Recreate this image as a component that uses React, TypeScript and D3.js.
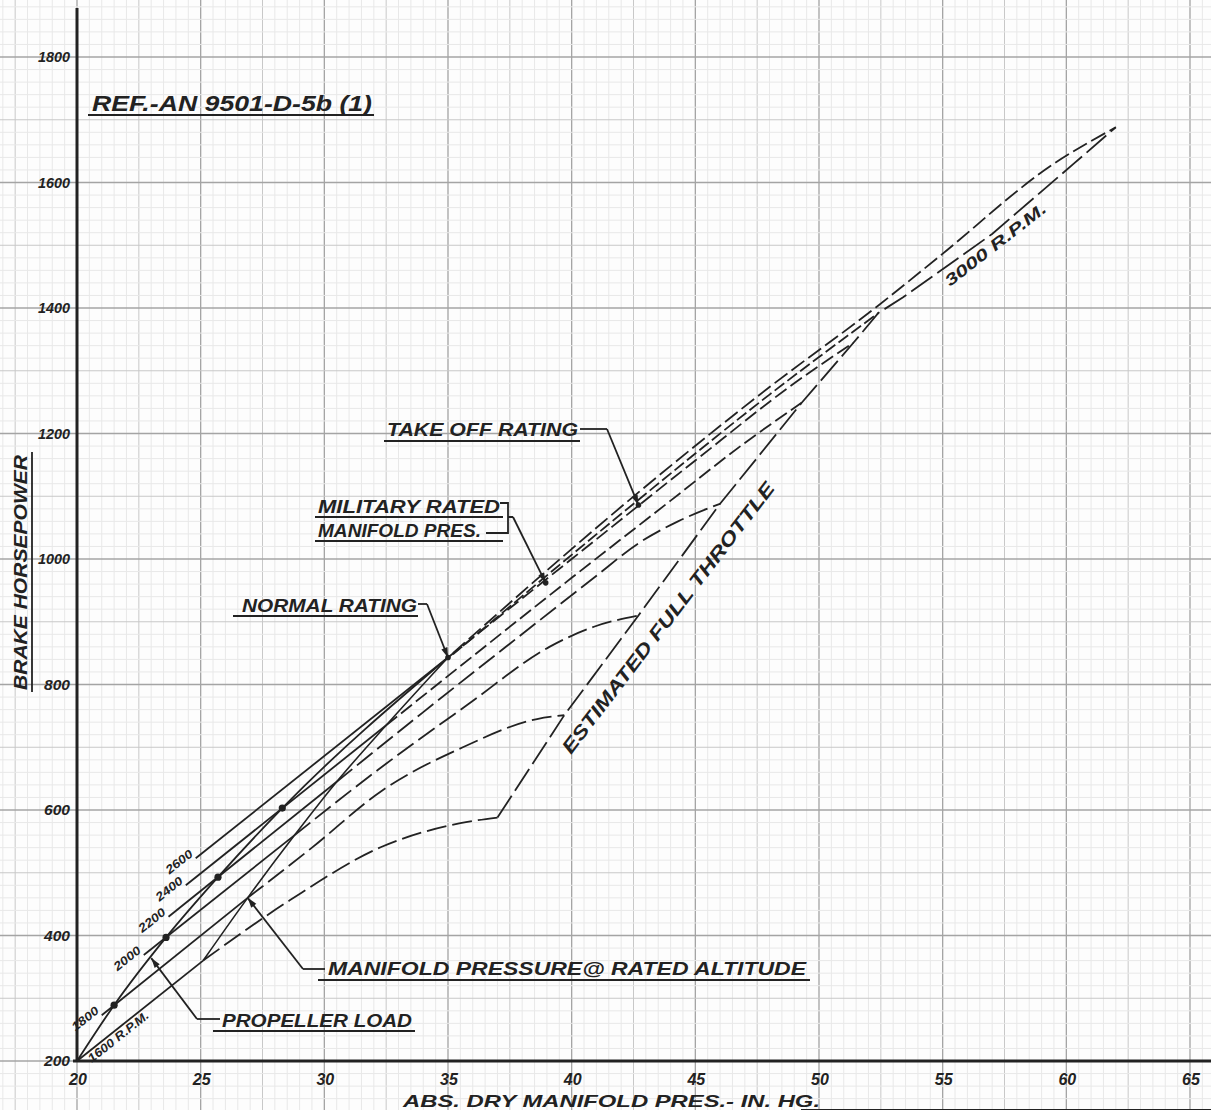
import React from 'react';
import * as d3 from 'd3';

const W = 1211;
const H = 1110;

// ---------- data ----------
const xTickValues = [20, 25, 30, 35, 40, 45, 50, 55, 60, 65];
const yTickValues = [200, 400, 600, 800, 1000, 1200, 1400, 1600, 1800];

const propellerX = [20, 21.5, 23.6, 25.7, 28.3, 35];
const propellerY = [200, 289, 397, 493, 603, 843];
const propellerDotX = [21.5, 23.6, 25.7, 28.3];
const propellerDotY = [289, 397, 493, 603];

const rpmNames = ['1600', '1800', '2000', '2200', '2400', '2600'];
const rpmSolidX = [[20, 25.1], [21.0, 26.9], [22.7, 28.8], [23.7, 30.5], [24.4, 32.5], [24.8, 35]];
const rpmSolidY = [[200, 360], [273, 460], [369, 560], [430, 645], [480, 735], [523, 843]];
const rpmDashX = [
  [25.1, 28.6, 32.3, 35.5, 37.0],
  [26.9, 29.5, 32.3, 35.6, 38.6, 39.7],
  [28.8, 32.2, 35.8, 39.1, 40.9, 42.7],
  [30.5, 34, 37.5, 40.9, 42.7, 44.3, 46.0],
  [32.5, 36, 40, 44, 47, 49.3],
  [35, 40, 45, 49, 51.4],
];
const rpmDashY = [
  [360, 456, 541, 579, 588],
  [460, 540, 630, 700, 745, 751],
  [560, 665, 768, 860, 892, 910],
  [645, 756, 865, 970, 1025, 1060, 1088],
  [735, 845, 970, 1093, 1185, 1249],
  [843, 1000, 1157, 1280, 1345],
];

const highRpmNames = ['2800', '3000'];
const highDashX = [
  [35.2, 43, 48, 52.4],
  [35.2, 43, 48, 52.4, 54.8, 59.5, 62],
];
const highDashY = [
  [848, 1104, 1262, 1392],
  [850, 1116, 1274, 1404, 1480, 1630, 1688],
];

const fullThrottleX = [37.0, 39.7, 42.7, 46.0, 49.3, 51.4, 52.4, 53.4, 57, 60.3, 62];
const fullThrottleY = [588, 751, 910, 1088, 1249, 1345, 1392, 1417, 1518, 1630, 1688];

const ratedAltX = [25.1, 26.9, 28.8, 30.5, 32.5, 35];
const ratedAltY = [360, 460, 560, 645, 735, 843];

const ratingNames = ['NORMAL RATING', 'MILITARY RATED', 'TAKE OFF RATING'];
const ratingX = [35, 38.95, 42.7];
const ratingY = [843, 962, 1086];

const propArrowX = 23.0;
const propArrowY = 364;

// ---------- scales ----------
const xs = d3.scaleLinear().domain([20, 65]).range([77, 1190]);
const ys = d3.scaleLinear().domain([200, 1800]).range([1061, 57]);

const INK = '#222';
const FONT = "'Liberation Sans', Arial, sans-serif";

const zip = (a: number[], b: number[]) => a.map((v, i) => [v, b[i]] as [number, number]);
const lin = d3.line<[number, number]>().x(d => xs(d[0])).y(d => ys(d[1]));
const smooth = d3.line<[number, number]>().x(d => xs(d[0])).y(d => ys(d[1])).curve(d3.curveMonotoneX);

function Arrow({ fx, fy, tx, ty }: { fx: number; fy: number; tx: number; ty: number }) {
  const a = Math.atan2(ty - fy, tx - fx);
  const L = 10, Wd = 3.2;
  const bx = tx - L * Math.cos(a), by = ty - L * Math.sin(a);
  const p1 = [bx + Wd * Math.sin(a), by - Wd * Math.cos(a)];
  const p2 = [bx - Wd * Math.sin(a), by + Wd * Math.cos(a)];
  return (
    <g>
      <line x1={fx} y1={fy} x2={tx} y2={ty} stroke={INK} strokeWidth={1.8} />
      <polygon points={`${tx},${ty} ${p1[0]},${p1[1]} ${p2[0]},${p2[1]}`} fill={INK} />
    </g>
  );
}

function Label({ x, y, text, len, size, rotate = 0, anchor = 'start', underline }: any) {
  return (
    <g transform={`translate(${x},${y}) rotate(${rotate})`}>
      <text
        x={0}
        y={0}
        textAnchor={anchor}
        fontFamily={FONT}
        fontStyle="italic"
        fontWeight="bold"
        fontSize={size}
        fill={INK}
        textLength={len}
        lengthAdjust="spacingAndGlyphs"
      >
        {text}
      </text>
      {underline ? (
        <line x1={underline[0]} x2={underline[1]} y1={underline[2]} y2={underline[2]} stroke={INK} strokeWidth={1.8} />
      ) : null}
    </g>
  );
}

export default function App() {
  // grid
  const fineX = d3.range(16, 66.01, 0.5);
  const fineY = d3.range(120, 1900, 20);
  const gridLines: JSX.Element[] = [];
  fineX.forEach((v, i) => {
    const r = Math.round(v * 2);
    const major = r % 10 === 0;
    const mid = !major && r % 5 === 0;
    gridLines.push(
      <line key={'gx' + i} x1={xs(v)} x2={xs(v)} y1={0} y2={H}
        stroke={major ? '#a4a4a4' : mid ? '#c8c8c8' : '#e8e8e8'} strokeWidth={major ? 1.3 : 1} />
    );
  });
  fineY.forEach((v, i) => {
    const major = v % 200 === 0;
    const mid = !major && v % 100 === 0;
    gridLines.push(
      <line key={'gy' + i} y1={ys(v)} y2={ys(v)} x1={0} x2={W}
        stroke={major ? '#a4a4a4' : mid ? '#c8c8c8' : '#e8e8e8'} strokeWidth={major ? 1.3 : 1} />
    );
  });

  const slopeAngle = (i: number) => {
    const [x0, x1] = rpmSolidX[i];
    const [y0, y1] = rpmSolidY[i];
    return (Math.atan2(ys(y1) - ys(y0), xs(x1) - xs(x0)) * 180) / Math.PI;
  };

  return (
    <svg width={W} height={H} style={{ position: 'absolute', left: 0, top: 0, background: '#fff' }}>
      <rect x={0} y={0} width={W} height={H} fill="#fdfdfd" />
      {gridLines}

      {/* axes */}
      <line x1={xs(20)} x2={xs(20)} y1={8} y2={ys(200)} stroke={INK} strokeWidth={3} />
      <line x1={xs(20) - 4} x2={W} y1={ys(200)} y2={ys(200)} stroke={INK} strokeWidth={3} />

      {/* tick labels */}
      {xTickValues.map(t => (
        <text key={'xt' + t} x={xs(t) + 1} y={1085} textAnchor="middle" fontFamily={FONT} fontStyle="italic"
          fontWeight="bold" fontSize={16} fill={INK}>{t}</text>
      ))}
      {yTickValues.map(t => (
        <text key={'yt' + t} x={70} y={ys(t) + 5} textAnchor="end" fontFamily={FONT} fontStyle="italic"
          fontWeight="bold" fontSize={14} fill={INK} textLength={t >= 1000 ? 32 : 26}
          lengthAdjust="spacingAndGlyphs">{t}</text>
      ))}

      {/* axis titles */}
      <Label x={403} y={1107} text="ABS. DRY MANIFOLD PRES.- IN. HG." len={417} size={17} underline={[398, 822, 3]} />
      <Label x={27} y={690} rotate={-90} text="BRAKE HORSEPOWER" len={235} size={19} underline={[-2, 238, 5]} />
      <Label x={92} y={111} text="REF.-AN 9501-D-5b (1)" len={280} size={22} underline={[-4, 282, 4]} />

      {/* propeller load */}
      <path d={smooth(zip(propellerX, propellerY)) || ''} fill="none" stroke={INK} strokeWidth={1.8} />
      {propellerDotX.map((v, i) => (
        <circle key={'pd' + i} cx={xs(v)} cy={ys(propellerDotY[i])} r={3.6} fill={INK} />
      ))}

      {/* rated altitude */}
      <path d={smooth(zip(ratedAltX, ratedAltY)) || ''} fill="none" stroke={INK} strokeWidth={1.6} />

      {/* rpm lines */}
      {rpmNames.map((n, i) => (
        <g key={'rpm' + n}>
          <path d={lin(zip(rpmSolidX[i], rpmSolidY[i])) || ''} fill="none" stroke={INK} strokeWidth={1.8} />
          <path d={smooth(zip(rpmDashX[i], rpmDashY[i])) || ''} fill="none" stroke={INK} strokeWidth={1.8}
            strokeDasharray={i >= 4 ? '14 5' : '20 6'} />
        </g>
      ))}
      {highRpmNames.map((n, i) => (
        <path key={'hr' + n} d={smooth(zip(highDashX[i], highDashY[i])) || ''} fill="none" stroke={INK}
          strokeWidth={1.8} strokeDasharray={i === 0 ? '12 4' : '16 5'} />
      ))}

      {/* full throttle */}
      <path d={lin(zip(fullThrottleX, fullThrottleY)) || ''} fill="none" stroke={INK} strokeWidth={1.8}
        strokeDasharray="26 6" />

      {/* rating points */}
      {ratingX.map((v, i) => (
        <circle key={'rt' + i} cx={xs(v)} cy={ys(ratingY[i])} r={2.8} fill={INK} />
      ))}

      {/* rpm labels */}
      {rpmNames.slice(1).map((n, k) => {
        const i = k + 1;
        const ang = slopeAngle(i);
        const sx = xs(rpmSolidX[i][0]);
        const sy = ys(rpmSolidY[i][0]);
        return (
          <Label key={'rl' + n} x={sx - 2} y={sy - 3} rotate={ang} text={n} len={31} size={12} anchor="end" />
        );
      })}
      <Label x={xs(20.6)} y={ys(219) + 14} rotate={slopeAngle(0)} text="1600 R.P.M." len={74} size={12} />
      <Label x={950} y={287} rotate={-38} text="3000 R.P.M." len={124} size={16} />
      <Label x={571} y={755} rotate={-52.5} text="ESTIMATED FULL THROTTLE" len={336} size={19} />

      {/* annotations */}
      <Label x={387} y={436} text="TAKE OFF RATING" len={191} size={18} underline={[-3, 193, 5]} />
      <path d={`M580,429 L607,429`} stroke={INK} strokeWidth={1.8} />
      <Arrow fx={607} fy={429} tx={xs(ratingX[2])} ty={ys(ratingY[2])} />

      <Label x={318} y={513} text="MILITARY RATED" len={182} size={18} underline={[-3, 185, 4]} />
      <Label x={318} y={537} text="MANIFOLD PRES." len={163} size={18} underline={[-3, 185, 4]} />
      <path d="M500,503 L508,503 L508,533 L486,533 M508,517 L513,517" fill="none" stroke={INK} strokeWidth={1.8} />
      <Arrow fx={513} fy={517} tx={xs(ratingX[1])} ty={ys(ratingY[1])} />

      <Label x={242} y={612} text={ratingNames[0]} len={175} size={18} underline={[-9, 176, 4]} />
      <path d="M418,604 L427,604" stroke={INK} strokeWidth={1.8} />
      <Arrow fx={427} fy={604} tx={xs(ratingX[0])} ty={ys(ratingY[0])} />

      <Label x={328} y={975} text="MANIFOLD PRESSURE@ RATED ALTITUDE" len={478} size={18} underline={[-10, 482, 5]} />
      <path d="M325,969 L303,969" stroke={INK} strokeWidth={1.8} />
      <Arrow fx={303} fy={969} tx={xs(ratedAltX[1])} ty={ys(ratedAltY[1])} />

      <Label x={222} y={1027} text="PROPELLER LOAD" len={190} size={18} underline={[-9, 193, 4]} />
      <path d="M220,1019 L197,1019" stroke={INK} strokeWidth={1.8} />
      <Arrow fx={197} fy={1019} tx={xs(propArrowX)} ty={ys(propArrowY)} />
    </svg>
  );
}
